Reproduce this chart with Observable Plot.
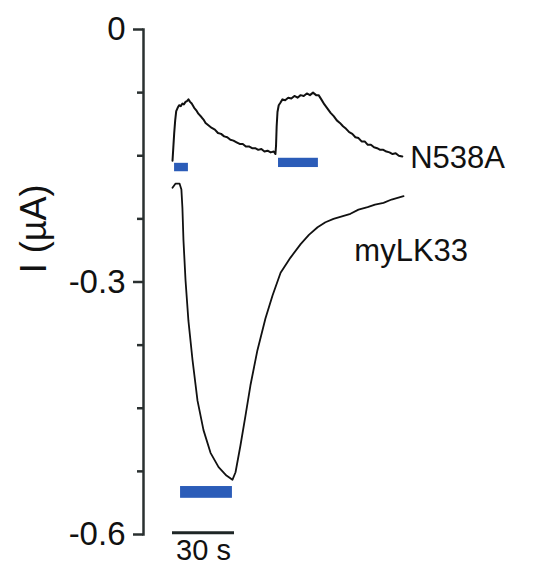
<!DOCTYPE html>
<html>
<head>
<meta charset="utf-8">
<script src="https://cdn.jsdelivr.net/npm/d3@7"></script>
<script src="https://cdn.jsdelivr.net/npm/@observablehq/plot@0.6"></script>
<style>
  html, body { margin: 0; padding: 0; background: #fff; }
  #chart svg { display: block; }
</style>
</head>
<body>
<div id="chart"></div>
<script>
// Whole-cell current traces (µA) versus time (s)
const n538aTime = [0, 0.4, 0.8, 1.3, 1.8, 2.5, 3.2, 4, 4.8, 5.5, 6.3, 7, 7.7, 8.5, 9.3, 10.5, 11.5, 12.5, 14, 15, 16, 17.5, 19, 20.5, 22, 23.5, 25, 26.5, 28, 29.5, 31, 32.5, 34, 35.5, 37, 38.5, 40, 41.5, 43, 44.5, 46, 47.5, 49, 49.8, 50.1, 50.4, 50.8, 51.4, 52.2, 53.2, 54.5, 56, 57.5, 59, 60.5, 62, 63.5, 65, 66.5, 68, 69.5, 70.7, 72, 73.5, 75, 76.5, 78, 79.5, 81, 82.5, 84, 85.5, 87, 88.5, 90, 91.5, 93, 94.5, 96, 97.5, 99, 100.5, 102, 103.5, 105, 106.5, 108, 109.5, 111.2];
const n538aCurrent = [-0.156, -0.140, -0.124, -0.108, -0.097, -0.093, -0.090, -0.091, -0.088, -0.089, -0.086, -0.085, -0.083, -0.086, -0.088, -0.093, -0.096, -0.100, -0.104, -0.107, -0.111, -0.114, -0.117, -0.119, -0.123, -0.124, -0.127, -0.128, -0.131, -0.132, -0.134, -0.136, -0.136, -0.139, -0.139, -0.141, -0.141, -0.143, -0.142, -0.145, -0.144, -0.146, -0.145, -0.148, -0.138, -0.115, -0.098, -0.090, -0.087, -0.083, -0.084, -0.081, -0.082, -0.079, -0.081, -0.078, -0.079, -0.076, -0.078, -0.075, -0.078, -0.078, -0.083, -0.089, -0.094, -0.099, -0.103, -0.108, -0.111, -0.115, -0.118, -0.122, -0.124, -0.128, -0.129, -0.133, -0.133, -0.137, -0.137, -0.140, -0.141, -0.143, -0.143, -0.145, -0.146, -0.148, -0.147, -0.150, -0.151];

const mylk33Time = [0, 1.5, 3.4, 4.3, 4.8, 5.3, 6.3, 7.7, 9.7, 12.1, 15, 18.4, 22.3, 26.1, 29, 30.5, 32.9, 35.3, 37.7, 41.1, 45, 48.4, 52.3, 57.1, 62, 66, 70.2, 74, 77.9, 82, 86.1, 90, 94.4, 98, 102.1, 106, 111.8];
const mylk33Current = [-0.188, -0.183, -0.183, -0.190, -0.212, -0.250, -0.298, -0.346, -0.393, -0.441, -0.476, -0.503, -0.520, -0.530, -0.535, -0.526, -0.494, -0.459, -0.423, -0.381, -0.343, -0.316, -0.289, -0.271, -0.255, -0.244, -0.235, -0.229, -0.225, -0.222, -0.219, -0.214, -0.211, -0.208, -0.206, -0.202, -0.198];

// Agonist application periods (s) and where each bar sits (µA)
const pulseStart = [1, 51.3, 3.9];
const pulseEnd = [7.7, 70.6, 29];
const pulseTop = [-0.159, -0.153, -0.543];
const pulseBottom = [-0.169, -0.164, -0.557];

// Axis ticks
const majorTicks = [0, -0.3, -0.6];
const minorTicks = [-0.075, -0.15, -0.225, -0.375, -0.45, -0.525];

// Time scale bar (s)
const scaleBarStart = 0;
const scaleBarEnd = 30;
const scaleBarLabel = "30 s";

// Trace names and the y title
const traceNames = ["N538A", "myLK33"];
const traceLabelTime = [115, 88];
const traceLabelCurrent = [-0.153, -0.263];
const yTitle = "I (µA)";

const n538a = n538aTime.map((t, i) => ({t, i: n538aCurrent[i]}));
const mylk33 = mylk33Time.map((t, i) => ({t, i: mylk33Current[i]}));
const pulses = pulseStart.map((s, k) => ({x1: s, x2: pulseEnd[k], y1: pulseTop[k], y2: pulseBottom[k]}));
const labels = traceNames.map((name, k) => ({name, t: traceLabelTime[k], i: traceLabelCurrent[k]}));

const font = "'Liberation Sans', Arial, sans-serif";
const axisColor = "#2a3030";
const fmt = d => d === 0 ? "0" : d.toFixed(1);

const chart = Plot.plot({
  width: 538,
  height: 567,
  marginLeft: 143,
  marginRight: 0,
  marginTop: 29,
  marginBottom: 33,
  style: {fontFamily: font, background: "#fff", overflow: "visible"},
  x: {domain: [0, 30], range: [172, 234], axis: null},
  y: {domain: [-0.6, 0]},
  marks: [
    Plot.frame({anchor: "left", stroke: axisColor, strokeWidth: 2.5}),
    Plot.axisY({ticks: minorTicks, tickSize: 6, tickFormat: () => "", stroke: axisColor, strokeWidth: 2.5, label: null}),
    Plot.axisY({ticks: majorTicks, tickSize: 10, tickPadding: 8, tickFormat: fmt, fontSize: 33, fill: "#111", stroke: axisColor, strokeWidth: 2.5, label: null}),
    Plot.text([yTitle], {x: -67, y: -0.237, text: d => d, rotate: -90, fontSize: 36, fill: "#111"}),
    Plot.rect(pulses, {x1: "x1", x2: "x2", y1: "y1", y2: "y2", fill: "#2b5cb8"}),
    Plot.line(n538a, {x: "t", y: "i", stroke: "#111", strokeWidth: 2}),
    Plot.line(mylk33, {x: "t", y: "i", stroke: "#111", strokeWidth: 1.8}),
    Plot.text(labels, {x: "t", y: "i", text: "name", textAnchor: "start", fontSize: 31, fill: "#111"}),
    Plot.ruleY([-0.598], {x1: scaleBarStart, x2: scaleBarEnd, stroke: "#1e2626", strokeWidth: 3}),
    Plot.text([scaleBarLabel], {x: (scaleBarStart + scaleBarEnd) / 2, y: -0.6, text: d => d, dy: 16, fontSize: 29, fill: "#111"})
  ]
});
document.getElementById("chart").appendChild(chart);
</script>
</body>
</html>
